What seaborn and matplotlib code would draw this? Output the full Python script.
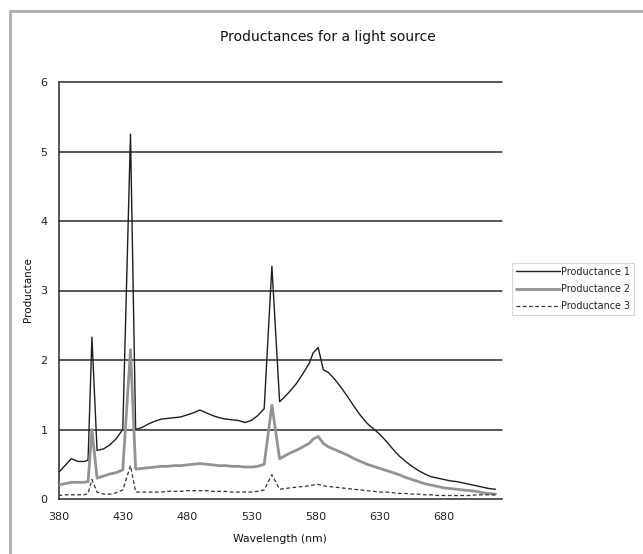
import numpy as np
import pandas as pd
import seaborn as sns
import matplotlib.pyplot as plt
from matplotlib.lines import Line2D

# wavelength grid (nm) and values
wavelength = [380, 385, 390, 395, 400, 403, 406, 410, 415, 420, 425, 430, 436,
              440, 445, 450, 455, 460, 465, 470, 475, 480, 485, 490, 495, 500,
              505, 510, 515, 520, 525, 530, 535, 540, 546, 552, 556, 560, 565,
              570, 575, 578, 582, 586, 590, 595, 600, 605, 610, 615, 620, 625,
              630, 635, 640, 645, 650, 655, 660, 665, 670, 675, 680, 685, 690,
              695, 700, 705, 710, 715, 720]

productance_1 = [0.38, 0.48, 0.58, 0.54, 0.54, 0.56, 2.33, 0.70, 0.72, 0.78, 0.87, 1.00, 5.25,
                 1.00, 1.03, 1.08, 1.12, 1.15, 1.16, 1.17, 1.18, 1.21, 1.24, 1.28, 1.24, 1.20,
                 1.17, 1.15, 1.14, 1.13, 1.10, 1.13, 1.20, 1.30, 3.35, 1.40, 1.47, 1.55, 1.66,
                 1.80, 1.95, 2.10, 2.18, 1.86, 1.82, 1.72, 1.60, 1.47, 1.33, 1.20, 1.09, 1.01,
                 0.93, 0.83, 0.72, 0.62, 0.54, 0.47, 0.41, 0.36, 0.32, 0.30, 0.28, 0.26, 0.25,
                 0.23, 0.21, 0.19, 0.17, 0.15, 0.14]

productance_2 = [0.20, 0.22, 0.24, 0.24, 0.24, 0.25, 1.00, 0.30, 0.33, 0.36, 0.38, 0.42, 2.15,
                 0.43, 0.44, 0.45, 0.46, 0.47, 0.47, 0.48, 0.48, 0.49, 0.50, 0.51, 0.50, 0.49,
                 0.48, 0.48, 0.47, 0.47, 0.46, 0.46, 0.47, 0.50, 1.35, 0.58, 0.62, 0.66, 0.70,
                 0.75, 0.80, 0.86, 0.90, 0.80, 0.75, 0.71, 0.67, 0.63, 0.58, 0.54, 0.50, 0.47,
                 0.44, 0.41, 0.38, 0.35, 0.31, 0.28, 0.25, 0.22, 0.20, 0.18, 0.16, 0.15, 0.14,
                 0.13, 0.12, 0.11, 0.09, 0.08, 0.07]

productance_3 = [0.05, 0.06, 0.06, 0.06, 0.06, 0.08, 0.28, 0.10, 0.07, 0.07, 0.09, 0.13, 0.48,
                 0.10, 0.10, 0.10, 0.10, 0.10, 0.11, 0.11, 0.11, 0.12, 0.12, 0.12, 0.12, 0.11,
                 0.11, 0.11, 0.10, 0.10, 0.10, 0.10, 0.11, 0.13, 0.35, 0.14, 0.15, 0.16, 0.17,
                 0.18, 0.19, 0.20, 0.21, 0.19, 0.18, 0.17, 0.16, 0.15, 0.14, 0.13, 0.12, 0.11,
                 0.10, 0.10, 0.09, 0.08, 0.08, 0.07, 0.07, 0.06, 0.06, 0.05, 0.05, 0.05, 0.05,
                 0.05, 0.05, 0.06, 0.06, 0.06, 0.06]

xticks = [380, 430, 480, 530, 580, 630, 680]
yticks = [0, 1, 2, 3, 4, 5, 6]

df = pd.DataFrame({"Wavelength": wavelength,
                   "Productance 1": productance_1,
                   "Productance 2": productance_2,
                   "Productance 3": productance_3})

sns.set_style("white")
plt.rcParams['font.family'] = ['DejaVu Sans']

W, H = 643, 554
fig = plt.figure(figsize=(W / 100, H / 100), dpi=100)
ax = fig.add_axes([58.5 / W, (H - 499) / H, (502 - 58.5) / W, (499 - 82) / H])

# series styles: (name, colour, width, dash)
styles = [("Productance 1", "#1e1e1e", 1.0, "-"),
          ("Productance 2", "#939393", 2.0, "-"),
          ("Productance 3", "#333333", 0.9, (0, (3, 2)))]

handles = []
for name, col, lw, ls in styles:
    sns.lineplot(data=df, x="Wavelength", y=name, ax=ax, color=col,
                 linewidth=lw, linestyle=ls, legend=False, zorder=3)
    handles.append(Line2D([0], [0], color=col, lw=lw, linestyle=ls, label=name))

ax.set_xlim(380, 725)
ax.set_ylim(0, 6)
ax.set_xticks(xticks)
ax.set_yticks(yticks)
ax.set_xlabel("")
ax.set_ylabel("")

# horizontal grid lines
for v in yticks[1:]:
    ax.axhline(v, color="#2a2a2a", lw=1.1, zorder=2, clip_on=False)

for side in ["top", "right"]:
    ax.spines[side].set_visible(False)
for side in ["left", "bottom"]:
    ax.spines[side].set_color("#2a2a2a")
    ax.spines[side].set_linewidth(1.1)

ax.tick_params(axis="both", which="major", direction="out", length=3,
               width=1, color="#2a2a2a", labelsize=8, labelcolor="#222222")
ax.tick_params(axis="x", pad=6)
ax.tick_params(axis="y", pad=5)

# chart texts
fig.text(328 / W, 1 - 37 / H, "Productances for a light source",
         ha="center", va="center", fontsize=10, color="#111111")
fig.text(280 / W, 1 - 539 / H, "Wavelength (nm)",
         ha="center", va="center", fontsize=7.8, color="#111111")
fig.text(28 / W, 1 - 290 / H, "Productance", rotation=90,
         ha="center", va="center", fontsize=7.5, color="#111111")

leg = fig.legend(handles=handles, loc="upper left",
                 bbox_to_anchor=(512 / W, 1 - 263 / H), bbox_transform=fig.transFigure,
                 fontsize=6.9, frameon=True, fancybox=False, borderaxespad=0,
                 handlelength=4.6, handletextpad=0.15, labelspacing=0.75,
                 borderpad=0.4)
leg.get_frame().set_edgecolor("#cfcfcf")
leg.get_frame().set_linewidth(0.8)
for t in leg.get_texts():
    t.set_color("#222222")

# chart area border (left and top edges visible)
fig.add_artist(Line2D([9.5 / W, 9.5 / W], [0, 1 - 11 / H], transform=fig.transFigure,
                      color="#b5b5b5", lw=2.2))
fig.add_artist(Line2D([9.5 / W, 1], [1 - 11 / H, 1 - 11 / H], transform=fig.transFigure,
                      color="#b5b5b5", lw=2.2))

fig.savefig("out.png", dpi=100)
plt.close()
